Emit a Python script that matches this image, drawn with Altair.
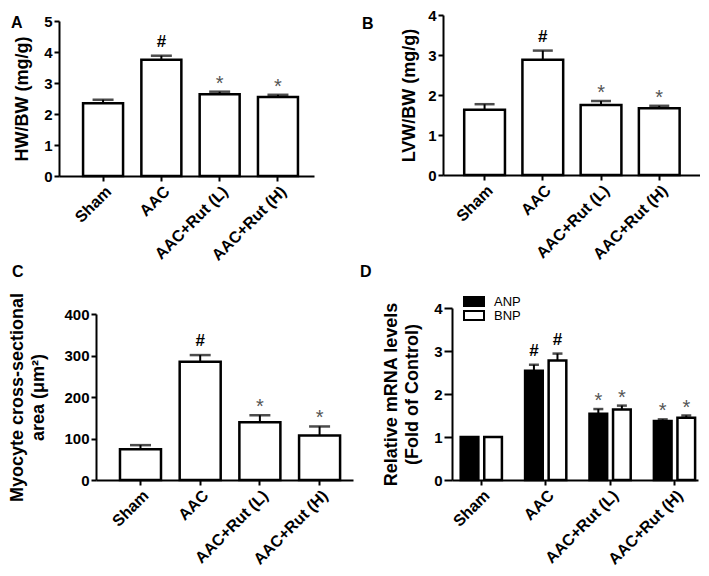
import altair as alt
import pandas as pd

# ---------------- data ----------------
groups = ["Sham", "AAC", "AAC+Rut (L)", "AAC+Rut (H)"]
signs = ["", "#", "*", "*"]

hw_mean = [2.35, 3.75, 2.64, 2.55]
hw_sem = [0.11, 0.13, 0.08, 0.07]

lvw_mean = [1.63, 2.88, 1.75, 1.67]
lvw_sem = [0.14, 0.23, 0.10, 0.06]

csa_mean = [74, 285, 139, 107]
csa_sem = [10, 16, 17, 22]

series = ["ANP", "BNP"]
anp_mean = [1.0, 2.54, 1.54, 1.37]
anp_sem = [0.0, 0.14, 0.11, 0.04]
bnp_mean = [1.0, 2.78, 1.64, 1.45]
bnp_sem = [0.0, 0.16, 0.09, 0.05]
anp_signs = ["", "#", "*", "*"]
bnp_signs = ["", "#", "*", "*"]

letters = ["A", "B", "C", "D"]

FONT = "Liberation Sans"
RECT = "M-1,-0.45L1,-0.45L1,0.45L-1,0.45Z"


def frame(means, sems, marks, name=None):
    df = pd.DataFrame({"group": groups, "mean": means, "sem": sems, "sign": marks})
    df["upper"] = df["mean"] + df["sem"]
    if name is not None:
        df["series"] = name
    return df


def letter_layer(letter, lx, ly):
    return alt.Chart(pd.DataFrame({"t": [letter]})).mark_text(
        font=FONT, fontWeight="bold", fontSize=16, align="left", baseline="top", color="black"
    ).encode(text="t:N", x=alt.value(lx), y=alt.value(ly))


def spacer():
    # tiny invisible cell used only to offset neighbouring panels in the layout
    return alt.Chart(pd.DataFrame({"t": [0]})).mark_rule(opacity=0, strokeWidth=1).encode(
        x=alt.value(0), x2=alt.value(1), y=alt.value(0), y2=alt.value(1)
    ).properties(width=1, height=1)


def panel(df, ytitle, ymax, yvals, width, height, pi, po, align, cap,
          title_pad, letter, lx, ly, tick_size=5, grouped=False):
    xscale = alt.Scale(domain=groups, paddingInner=pi, paddingOuter=po, align=align)
    xaxis = alt.Axis(title=None, labelAngle=-45, labelAlign="right", labelBaseline="top",
                     labelPadding=2, tickSize=5, labelFontSize=16)
    yscale = alt.Scale(domain=[0, ymax], nice=False, zero=True)
    yaxis = alt.Axis(title=ytitle, values=yvals, titlePadding=title_pad, tickSize=tick_size,
                     labelPadding=2)

    def X():
        return alt.X("group:N", sort=groups, scale=xscale, axis=xaxis)

    def Y(field):
        return alt.Y(field, scale=yscale, axis=yaxis)

    base = alt.Chart(df)
    enc_extra = {}
    if grouped:
        enc_extra["xOffset"] = alt.XOffset(
            "series:N", sort=series,
            scale=alt.Scale(domain=series, paddingInner=0.25, paddingOuter=0))
        bars = base.mark_bar(stroke="black", strokeWidth=2.5).encode(
            x=X(), y=Y("mean:Q"),
            fill=alt.Fill("series:N", sort=series,
                          scale=alt.Scale(domain=series, range=["black", "white"]),
                          legend=alt.Legend(title=None, orient="none", legendX=11, legendY=-13,
                                            symbolType=RECT, symbolSize=400,
                                            symbolStrokeColor="black", symbolStrokeWidth=2,
                                            labelFont=FONT, labelFontSize=13, labelColor="black",
                                            rowPadding=0, clipHeight=13, labelOffset=9,
                                            padding=0)),
            **enc_extra)
    else:
        bars = base.mark_bar(fill="white", stroke="black", strokeWidth=2.5).encode(
            x=X(), y=Y("mean:Q"))

    eb = base.transform_filter("datum.sem > 0")
    rule = eb.mark_rule(color="black", strokeWidth=2).encode(
        x=X(), y=Y("mean:Q"), y2="upper:Q", **enc_extra)
    capm = eb.mark_tick(orient="horizontal", size=cap, thickness=2.5, color="black").encode(
        x=X(), y=Y("upper:Q"), **enc_extra)

    hashes = base.transform_filter("datum.sign == '#'").mark_text(
        font=FONT, fontWeight="bold", fontSize=17, baseline="alphabetic", dy=-9, color="black"
    ).encode(x=X(), y=Y("upper:Q"), text="sign:N", **enc_extra)
    stars = base.transform_filter("datum.sign == '*'").mark_text(
        font=FONT, fontSize=20, baseline="alphabetic", dy=-2, color="#555555"
    ).encode(x=X(), y=Y("upper:Q"), text="sign:N", **enc_extra)

    layers = [bars, rule, capm, hashes, stars, letter_layer(letter, lx, ly)]
    return alt.layer(*layers).properties(width=width, height=height)


dfA = frame(hw_mean, hw_sem, signs)
dfB = frame(lvw_mean, lvw_sem, signs)
dfC = frame(csa_mean, csa_sem, signs)
dfD = pd.concat([frame(anp_mean, anp_sem, anp_signs, "ANP"),
                 frame(bnp_mean, bnp_sem, bnp_signs, "BNP")], ignore_index=True)

pA = panel(dfA, "HW/BW (mg/g)", 5, [0, 1, 2, 3, 4, 5], 255, 155, 0.314, 0.344, 0.6, 21,
           12, letters[0], -48, -6)
pB = panel(dfB, "LVW/BW (mg/g)", 4, [0, 1, 2, 3, 4], 257, 160, 0.30, 0.357, 0.51, 20,
           9, letters[1], -81, 1)
pC = panel(dfC, ["Myocyte cross-sectional", "area (\u03bcm\u00b2)"], 400,
           [0, 100, 200, 300, 400], 257, 166, 0.313, 0.309, 0.65, 21,
           16, letters[2], -84, -50)
pD = panel(dfD, ["Relative mRNA levels", "(Fold of Control)"], 4, [0, 1, 2, 3, 4],
           246, 172, 0.36, 0.09, 0.75, 10, 12, letters[3], -92, -44,
           tick_size=8, grouped=True)

colA = alt.vconcat(spacer(), pA, spacing=-2)
row1 = alt.hconcat(colA, pB, spacing=48)

colC = alt.vconcat(spacer(), pC, spacing=-45)
inner2 = alt.hconcat(colC, pD, spacing=7).resolve_scale(fill="independent").resolve_legend(
    fill="independent")
row2 = alt.hconcat(spacer(), inner2, spacing=-52)

chart = alt.vconcat(row1, row2, spacing=0).properties(padding=0).configure_view(
    stroke=None
).configure_axis(
    domainColor="black", domainWidth=2, tickColor="black", tickWidth=2,
    labelFont=FONT, labelFontWeight="bold", labelFontSize=15, labelColor="black",
    titleFont=FONT, titleFontWeight="bold", titleFontSize=18, titleColor="black",
    titleLineHeight=21, grid=False
)

chart.save("out.html", embed_options={"renderer": "svg", "actions": False})
